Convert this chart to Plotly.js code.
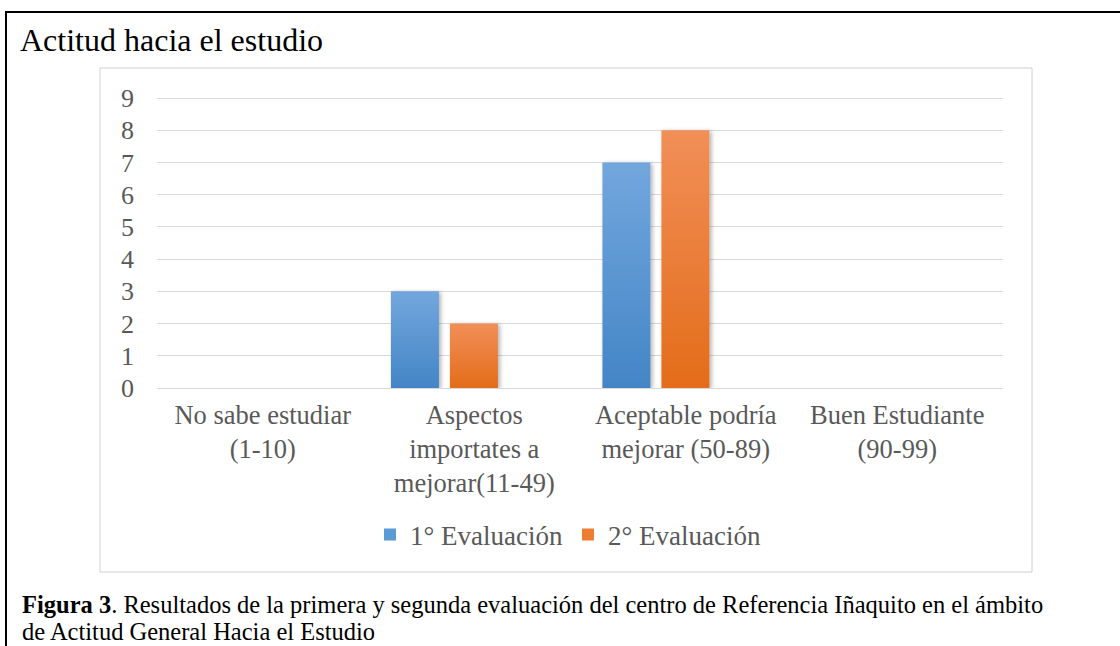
<!DOCTYPE html>
<html>
<head>
<meta charset="utf-8">
<script src="https://cdn.plot.ly/plotly-3.0.1.min.js"></script>
<style>
html,body{margin:0;padding:0;background:#fff;}
#chart{width:1120px;height:646px;}
</style>
</head>
<body>
<div id="chart"></div>
<script>
// ---- data ----
const categories = [
  "No sabe estudiar<br>(1-10)",
  "Aspectos<br>importates a<br>mejorar(11-49)",
  "Aceptable podría<br>mejorar (50-89)",
  "Buen Estudiante<br>(90-99)"
];
const seriesNames = ["1° Evaluación", "2° Evaluación"];
const eval1 = [0, 3, 7, 0];
const eval2 = [0, 2, 8, 0];
const yTicks = [0,1,2,3,4,5,6,7,8,9];
const chartTitle = "Actitud hacia el estudio";
const captionBold = "Figura 3";
const captionLine1 = ". Resultados de la primera y segunda evaluación del centro de Referencia Iñaquito en el ámbito";
const captionLine2 = "de Actitud General Hacia el Estudio";

// ---- layout geometry (pixels) ----
const W = 1120, H = 646;
const PL = 157, PR = 1003, PT = 93, PB = 388;
const pw = PR - PL, ph = PB - PT;
const px = x => (x - PL) / pw;
const py = y => (PB - y) / ph;
const unit = (388 - 98) / 9;          // pixels per y unit
const yTop = ph / unit;               // y range top so that 9 sits at 98px

const serif = "'Liberation Serif', 'Times New Roman', serif";
const gray = "#595959";

const traces = [
  {type:"bar", name: seriesNames[0], x: categories, y: eval1,
   width: 0.227, offset: -0.394,
   marker:{color:"#5b9bd5"}, hoverinfo:"skip"},
  {type:"bar", name: seriesNames[1], x: categories, y: eval2,
   width: 0.227, offset: -0.115,
   marker:{color:"#ed7d31"}, hoverinfo:"skip"}
];

const layout = {
  width: W, height: H,
  margin: {l: PL, r: W - PR, t: PT, b: H - PB, pad: 0},
  paper_bgcolor: "#fff", plot_bgcolor: "rgba(0,0,0,0)",
  barmode: "overlay",
  showlegend: true,
  title: {
    text: chartTitle,
    font: {family: serif, size: 32, color: "#000"},
    xref: "container", yref: "container",
    x: 20 / W, xanchor: "left",
    y: 1 - 40 / H, yanchor: "middle"
  },
  xaxis: {
    type: "category",
    tickfont: {family: serif, size: 26.5, color: gray},
    showgrid: false, showline: false, zeroline: false,
    ticks: "", ticklabelstandoff: 8,
    fixedrange: true
  },
  yaxis: {
    range: [0, yTop],
    tickvals: yTicks,
    tickfont: {family: serif, size: 26, color: gray},
    showgrid: true, gridcolor: "#d9d9d9", gridwidth: 1,
    zeroline: true, zerolinecolor: "#d9d9d9", zerolinewidth: 1,
    showline: false, ticks: "", ticklabelstandoff: 22,
    fixedrange: true
  },
  legend: {
    orientation: "h",
    x: px(568), xanchor: "center",
    y: py(535), yanchor: "middle",
    font: {family: serif, size: 27, color: gray},
    itemwidth: 30, tracegroupgap: 0,
    bgcolor: "rgba(0,0,0,0)"
  },
  shapes: [
    // inner chart frame
    {type:"rect", xref:"paper", yref:"paper", layer:"below",
     x0: px(100), x1: px(1032), y0: py(572), y1: py(68),
     line:{color:"#d0d0d0", width:1}, fillcolor:"rgba(0,0,0,0)"},
    // outer black frame (left and top)
    {type:"line", xref:"paper", yref:"paper",
     x0: px(6), x1: px(6), y0: py(11), y1: py(660),
     line:{color:"#000", width:2}},
    {type:"line", xref:"paper", yref:"paper",
     x0: px(5), x1: px(1125), y0: py(12), y1: py(12),
     line:{color:"#000", width:2}}
  ],
  annotations: [
    {xref:"paper", yref:"paper", x: px(20), y: py(604),
     xanchor:"left", yanchor:"middle", showarrow:false,
     text: "<b>" + captionBold + "</b>" + captionLine1,
     font:{family: serif, size: 24.5, color:"#000"}},
    {xref:"paper", yref:"paper", x: px(20), y: py(631),
     xanchor:"left", yanchor:"middle", showarrow:false,
     text: captionLine2,
     font:{family: serif, size: 24.5, color:"#000"}}
  ]
};

function addGradients(gd){
  const svg = gd.querySelector("svg.main-svg");
  if(!svg) return;
  const NS = "http://www.w3.org/2000/svg";
  let defs = svg.querySelector("defs");
  if(!defs){ defs = document.createElementNS(NS,"defs"); svg.insertBefore(defs, svg.firstChild); }
  const grads = [["gradB","#72a7dd","#4485c6"],["gradO","#f18f58","#e46c1a"]];
  grads.forEach(([id,c1,c2])=>{
    const g = document.createElementNS(NS,"linearGradient");
    g.setAttribute("id",id); g.setAttribute("x1","0"); g.setAttribute("y1","0");
    g.setAttribute("x2","0"); g.setAttribute("y2","1");
    const s1 = document.createElementNS(NS,"stop"); s1.setAttribute("offset","0"); s1.setAttribute("stop-color",c1);
    const s2 = document.createElementNS(NS,"stop"); s2.setAttribute("offset","1"); s2.setAttribute("stop-color",c2);
    g.appendChild(s1); g.appendChild(s2); defs.appendChild(g);
  });
  const f = document.createElementNS(NS,"filter");
  f.setAttribute("id","barShadow"); f.setAttribute("x","-20%"); f.setAttribute("y","-10%");
  f.setAttribute("width","150%"); f.setAttribute("height","130%");
  const ds = document.createElementNS(NS,"feDropShadow");
  ds.setAttribute("dx","2"); ds.setAttribute("dy","1"); ds.setAttribute("stdDeviation","2");
  ds.setAttribute("flood-color","#000"); ds.setAttribute("flood-opacity","0.3");
  f.appendChild(ds); defs.appendChild(f);
  const traceGroups = gd.querySelectorAll(".barlayer .trace");
  traceGroups.forEach((tg,i)=>{
    tg.querySelectorAll("path").forEach(p=>{
      p.style.fill = "url(#" + (i===0?"gradB":"gradO") + ")";
      p.setAttribute("filter","url(#barShadow)");
    });
  });
}

Plotly.newPlot("chart", traces, layout, {staticPlot: true, displayModeBar: false})
  .then(addGradients);
</script>
</body>
</html>
